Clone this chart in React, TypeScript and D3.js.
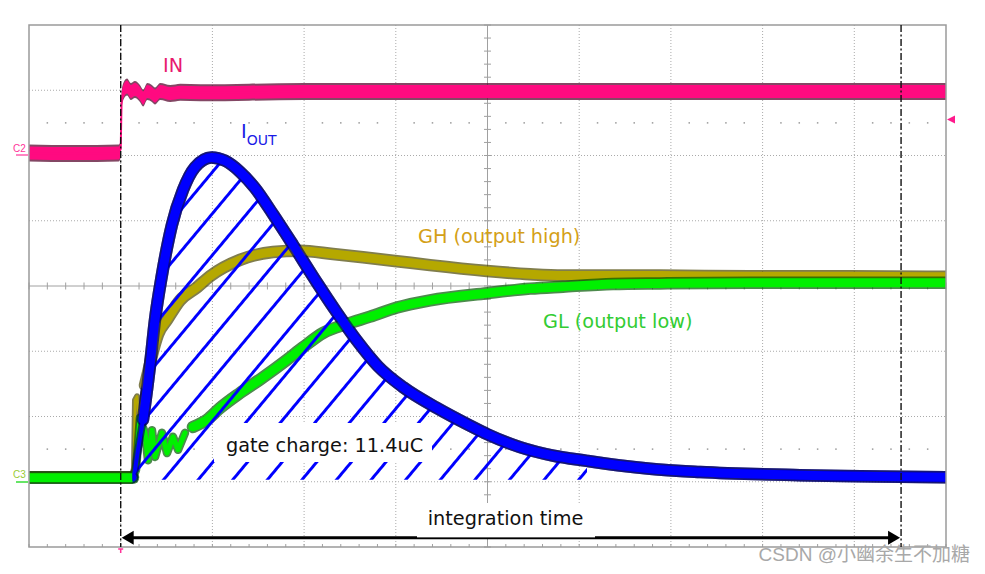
import React from "react";
import * as d3 from "d3";

// Oscilloscope screen: 10 horizontal divisions (time), 8 vertical divisions (level)
const TIME_DIVS = [0, 10];
const LEVEL_DIVS = [-4, 4];

// IN (channel 2), [time div, level div]
const inSeries: [number, number][] = [
  [0, 2.04], [0.5, 2.03], [0.98, 2.04], [1.0, 2.1], [1.01, 2.85], [1.035, 3.0],
  [1.07, 3.05], [1.11, 2.98], [1.155, 3.01], [1.21, 2.95], [1.245, 2.88], [1.29, 2.98],
  [1.34, 2.95], [1.375, 2.91], [1.43, 2.98], [1.54, 2.95], [1.65, 2.97], [1.87, 2.96],
  [2.4, 2.97], [3.0, 2.98], [10, 2.98],
];

// IOUT
const ioutSeries: [number, number][] = [
  [0, -2.93], [1.123, -2.93], [1.156, -2.82], [1.189, -2.51], [1.243, -2.05],
  [1.32, -1.21], [1.374, -0.52], [1.45, 0.17], [1.559, 0.94], [1.679, 1.47],
  [1.81, 1.82], [1.99, 1.97], [2.137, 1.92], [2.301, 1.75], [2.465, 1.5],
  [2.661, 1.1], [2.879, 0.63], [3.141, 0.05], [3.359, -0.41], [3.577, -0.84],
  [3.806, -1.23], [4.079, -1.55], [4.449, -1.87], [4.809, -2.14], [4.995, -2.27],
  [5.354, -2.47], [5.714, -2.6], [6.085, -2.68], [6.445, -2.75], [6.772, -2.8],
  [7.317, -2.85], [8.408, -2.9], [10, -2.93],
];

// GH (output high)
const ghSeries: [number, number][] = [
  [0, -2.93], [1.123, -2.93], [1.145, -2.79], [1.156, -1.75], [1.178, -1.69],
  [1.2, -2.21], [1.221, -1.82], [1.265, -1.52], [1.298, -1.33], [1.341, -1.06],
  [1.407, -0.74], [1.505, -0.52], [1.647, -0.22], [1.832, -0.02], [1.974, 0.15],
  [2.301, 0.4], [2.661, 0.52], [2.955, 0.54], [3.315, 0.49], [3.642, 0.44],
  [4.013, 0.38], [4.373, 0.32], [4.995, 0.23], [5.464, 0.18], [5.823, 0.16],
  [6.369, 0.16], [6.881, 0.16], [7.863, 0.15], [8.953, 0.15], [10, 0.14],
];

// GL (output low)
const glSeries: [number, number][] = [
  [0, -2.94], [1.134, -2.94], [1.167, -2.82], [1.21, -2.02], [1.232, -2.13],
  [1.265, -2.25], [1.298, -2.67], [1.341, -2.21], [1.374, -2.62], [1.45, -2.25],
  [1.505, -2.56], [1.57, -2.31], [1.625, -2.51], [1.701, -2.25], [1.788, -2.16],
  [1.941, -2.05], [2.083, -1.87], [2.301, -1.64], [2.552, -1.4], [2.814, -1.13],
  [2.988, -0.94], [3.206, -0.72], [3.468, -0.58], [3.719, -0.47], [4.013, -0.33],
  [4.373, -0.22], [4.995, -0.11], [5.464, -0.04], [5.823, -0.01], [6.369, 0.03],
  [6.881, 0.04], [7.863, 0.05], [10, 0.05],
];

// Cursors (time div) and integration baseline (level div)
const cursorTimes = [1.0, 9.51];
const chargeBaseline = -2.97;
const chargeWindow = [1.15, 6.2];
const arrowLevel = -3.86;
const markerLevels = [2.5, -2.5];

const W = 985;
const H = 574;
const L = 29, R = 946, T = 25, B = 547;

const x = d3.scaleLinear().domain(TIME_DIVS).range([L, R]);
const y = d3.scaleLinear().domain(LEVEL_DIVS).range([B, T]);

const slice = (d: [number, number][], a: number, b: number) => d.filter(([t]) => t >= a && t <= b);

const smooth = d3.line<[number, number]>().x((d) => x(d[0])).y((d) => y(d[1])).curve(d3.curveMonotoneX);
const sharp = d3.line<[number, number]>().x((d) => x(d[0])).y((d) => y(d[1])).curve(d3.curveLinear);

function Trace({ data, core, edge, w, cuts, thinW }: any) {
  const parts: { d: [number, number][]; thin: boolean }[] = cuts
    ? [
        { d: slice(data, 0, cuts[0]), thin: false },
        { d: slice(data, cuts[0], cuts[1]), thin: true },
        { d: slice(data, cuts[1], 10), thin: false },
      ]
    : [{ d: data, thin: false }];
  const gen = (p: { thin: boolean }) => (p.thin ? sharp : smooth);
  return (
    <g fill="none" strokeLinejoin="round" strokeLinecap="round">
      {parts.map((p, i) => (
        <path key={"e" + i} d={gen(p)(p.d) || ""} stroke={edge} strokeWidth={(p.thin ? thinW : w) + 3.5} opacity={0.7} />
      ))}
      {parts.map((p, i) => (
        <path key={"c" + i} d={gen(p)(p.d) || ""} stroke={core} strokeWidth={p.thin ? thinW : w} />
      ))}
    </g>
  );
}

export default function App() {
  const vGrid = d3.range(1, 10).filter((v) => v !== 5);
  const hGrid = d3.range(-3, 4).filter((v) => v !== 0);
  const minorX = d3.range(0, 10.001, 0.2);
  const minorY = d3.range(-4, 4.001, 0.2);
  const dotX = d3.range(0.2, 10, 0.2).filter((v) => Math.abs(v - Math.round(v)) > 0.05);

  const inArea = d3
    .area<[number, number]>()
    .x((d) => x(d[0]))
    .y0((d) => y(d[1]) + 6.5)
    .y1((d) => y(d[1]) - 6.5)
    .curve(d3.curveMonotoneX);
  const inAreaEdge = d3
    .area<[number, number]>()
    .x((d) => x(d[0]))
    .y0((d) => y(d[1]) + 8.5)
    .y1((d) => y(d[1]) - 8.5)
    .curve(d3.curveMonotoneX);

  const hatchArea = d3
    .area<[number, number]>()
    .x((d) => x(d[0]))
    .y0(y(chargeBaseline))
    .y1((d) => y(d[1]))
    .curve(d3.curveMonotoneX);
  const hatchData = slice(ioutSeries, chargeWindow[0], chargeWindow[1]);

  const hSpacing = 34.6;
  const slopeDeg = (Math.atan(1.2) * 180) / Math.PI; // ~50.2 deg
  const perp = hSpacing * Math.sin((slopeDeg * Math.PI) / 180);
  const rot = 90 - slopeDeg;

  const yArrow = y(arrowLevel);
  const xa = x(cursorTimes[0]);
  const xb = x(cursorTimes[1]);

  return (
    <svg width={W} height={H} style={{ position: "absolute", left: 0, top: 0, background: "#fff" }}>
      <defs>
        <pattern
          id="hatch"
          patternUnits="userSpaceOnUse"
          width={perp}
          height={10}
          patternTransform={`translate(${x(1.09)},${y(chargeBaseline)}) rotate(${rot}) translate(${-perp / 2},0)`}
        >
          <line x1={perp / 2} y1={-2} x2={perp / 2} y2={12} stroke="#0000ff" strokeWidth={3} />
        </pattern>
        <clipPath id="afterEdge">
          <rect x={x(1.13)} y={T} width={R - x(1.13)} height={B - T} />
        </clipPath>
        <clipPath id="frame">
          <rect x={L} y={T} width={R - L} height={B - T} />
        </clipPath>
      </defs>

      {/* grid */}
      <g stroke="#aaaaaa" strokeWidth={1} strokeDasharray="1,2">
        {vGrid.map((v) => (
          <line key={"v" + v} x1={x(v)} x2={x(v)} y1={T} y2={B} />
        ))}
        {hGrid.map((v) => (
          <line key={"h" + v} x1={L} x2={R} y1={y(v)} y2={y(v)} />
        ))}
      </g>
      <g stroke="#a0a0a0" strokeWidth={1}>
        <line x1={x(5)} x2={x(5)} y1={T} y2={B} />
        <line x1={L} x2={R} y1={y(0)} y2={y(0)} />
        {minorX.map((v, i) => (
          <line key={"mx" + i} x1={x(v)} x2={x(v)} y1={y(0) - 3.5} y2={y(0) + 3.5} />
        ))}
        {minorY.map((v, i) => (
          <line key={"my" + i} x1={x(5) - 3.5} x2={x(5) + 3.5} y1={y(v)} y2={y(v)} />
        ))}
        {minorX.map((v, i) => (
          <line key={"bx" + i} x1={x(v)} x2={x(v)} y1={B} y2={B - 3} />
        ))}
      </g>
      <g fill="#9a9a9a">
        {markerLevels.map((m) =>
          dotX.map((v, i) => <rect key={m + "d" + i} x={x(v) - 0.75} y={y(m) - 0.75} width={1.5} height={1.5} />)
        )}
      </g>

      <g clipPath="url(#frame)">
        {/* IN trace */}
        <path d={inAreaEdge(inSeries) || ""} fill="#5a0a30" opacity={0.75} />
        <path d={inArea(inSeries) || ""} fill="#ff0a80" />
        <path d={sharp(inSeries) || ""} fill="none" stroke="#ff0a80" strokeWidth={2} />

        {/* IOUT under (baseline) */}
        <Trace data={ioutSeries} core="#0000ff" edge="#00006a" w={9} cuts={[1.123, 1.243]} thinW={4} />
        {/* GH */}
        <Trace data={ghSeries} core="#b5a800" edge="#4a4600" w={9} cuts={[1.123, 1.265]} thinW={2.5} />
        {/* GL */}
        <Trace data={glSeries} core="#00f000" edge="#005a00" w={9} cuts={[1.134, 1.76]} thinW={5} />

        {/* gate charge hatch */}
        <path d={hatchArea(hatchData) || ""} fill="url(#hatch)" />
        <rect x={214} y={423} width={218} height={39} fill="#fff" />

        {/* IOUT on top after the edge */}
        <g clipPath="url(#afterEdge)">
          <Trace data={ioutSeries} core="#0000ff" edge="#00006a" w={9} cuts={[1.123, 1.243]} thinW={4} />
        </g>
      </g>

      <rect x={L} y={T} width={R - L} height={B - T} fill="none" stroke="#9a9a9a" strokeWidth={1.5} />

      {/* cursors */}
      <g stroke="#111" strokeWidth={1.4} strokeDasharray="7,2.5,2,2.5">
        {cursorTimes.map((c) => (
          <line key={c} x1={x(c)} x2={x(c)} y1={T} y2={B} />
        ))}
      </g>

      {/* integration arrow */}
      <line x1={xa + 10} x2={xb - 10} y1={yArrow} y2={yArrow} stroke="#000" strokeWidth={3} />
      <polygon points={`${xa + 1},${yArrow} ${xa + 13},${yArrow - 7} ${xa + 13},${yArrow + 7}`} fill="#000" />
      <polygon points={`${xb - 1},${yArrow} ${xb - 13},${yArrow - 7} ${xb - 13},${yArrow + 7}`} fill="#000" />
      <rect x={417} y={503} width={178} height={yArrow - 503 - 0.5} fill="#fff" />

      {/* texts */}
      <g fontFamily="'DejaVu Sans', Verdana, sans-serif" fontSize={19.3}>
        <text x={163} y={72} fill="#e8196e">IN</text>
        <text x={241} y={138} fill="#1a1ae6">
          I<tspan fontSize={14} dy={7}>OUT</tspan>
        </text>
        <text x={418} y={243} fill="#d4a017">GH (output high)</text>
        <text x={543} y={328} fill="#33cc33">GL (output low)</text>
        <text x={226} y={452} fill="#111">gate charge: 11.4uC</text>
        <text x={505.5} y={525} fill="#111" textAnchor="middle">integration time</text>
      </g>

      {/* channel markers */}
      <g fontFamily="'Liberation Sans', Arial, sans-serif" fontSize={10}>
        <text x={13} y={152} fill="#ff3399">C2</text>
        <line x1={16} x2={28} y1={155} y2={155} stroke="#ff3399" strokeWidth={1.2} />
        <text x={13} y={478} fill="#99cc33">C3</text>
        <line x1={16} x2={28} y1={482} y2={482} stroke="#33dd33" strokeWidth={1.5} />
      </g>
      <polygon points={`${R + 1},${y(2.55)} ${R + 9},${y(2.55) - 4} ${R + 9},${y(2.55) + 4}`} fill="#ff1a8c" />
      <path d={`M${xa - 2.5},${B + 2} h5 M${xa},${B + 2} v4`} stroke="#ff3399" strokeWidth={1.5} />

      {/* watermark */}
      <text
        x={970}
        y={561}
        textAnchor="end"
        fontFamily="'Liberation Sans','Noto Sans CJK SC', sans-serif"
        fontSize={19}
        fill="#a8a8a8"
      >
        CSDN @小幽余生不加糖
      </text>
    </svg>
  );
}
